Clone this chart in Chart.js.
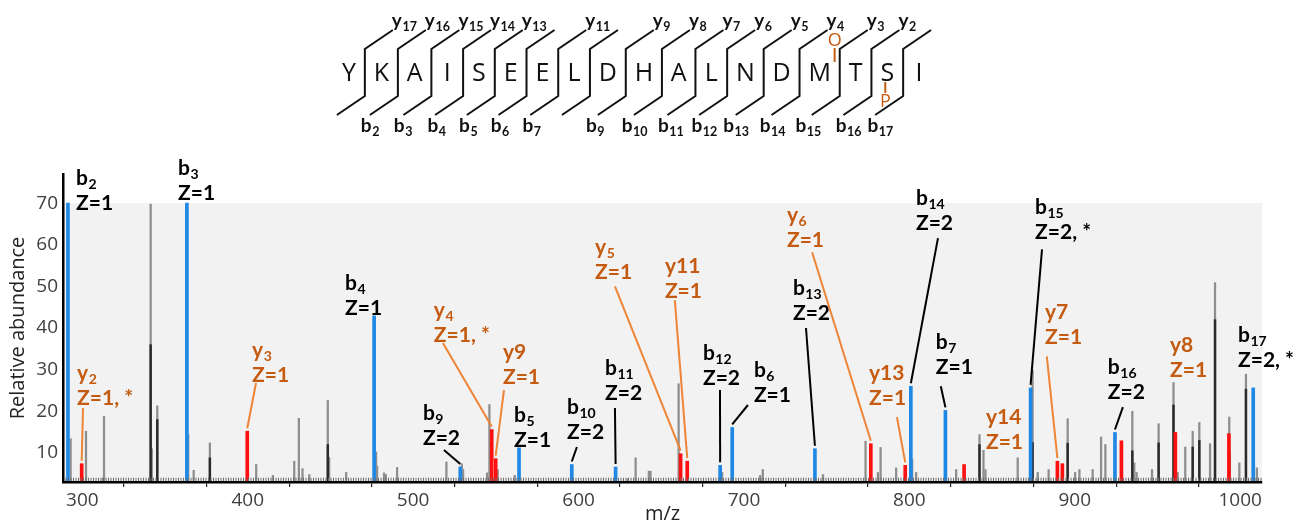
<!DOCTYPE html>
<html><head><meta charset="utf-8">
<script src="https://cdn.jsdelivr.net/npm/chart.js"></script>
<style>html,body{margin:0;padding:0;background:#fff}</style>
</head><body>
<canvas id="c" width="1304" height="523"></canvas>
<script>
// ---------------- data ----------------
const residues = ['Y','K','A','I','S','E','E','L','D','H','A','L','N','D','M','T','S','I'];
const seqBLabels = ['2','3','4','5','6','7','','9','10','11','12','13','14','15','16','17',''];
const seqYLabels = ['17','16','15','14','13','','11','','9','8','7','6','5','4','3','2',''];

const xTickValues = [300,350,400,450,500,550,600,650,700,750,800,850,900,950,1000];
const yTickValues = [10,20,30,40,50,60,70];

const grayMz = [292.9,302.2,312.5,313.1,341.3,342.0,345.3,364.0,367.3,377.1,405.1,415.2,428.1,430.9,433.1,437.2,448.4,449.2,459.5,477.6,478.2,482.4,483.5,490.3,520.1,529.4,530.2,544.7,546.1,551.1,561.4,629.8,634.5,642.5,643.5,660.5,686.8,709.8,711.4,747.8,773.5,781.0,782.6,792.0,801.7,804.1,828.3,842.4,844.8,846.0,865.5,874.5,877.6,884.2,895.7,900.2,902.8,910.8,915.9,918.5,934.8,936.0,937.4,946.7,950.7,959.7,962.2,966.8,971.3,975.3,981.8,984.8,993.4,999.5,1003.5,1010.1];
const grayVal = [13.4,15.2,4,18.8,69.8,11,21.3,14.4,5.8,12.4,7.2,4.6,8,18.3,6.2,4.8,22.6,8.9,5.3,10.2,6.8,5.2,4.8,6.5,7.8,7.4,6,5.2,21.6,6,4.6,3.8,8.8,5.6,5.6,26.6,5.3,4.6,6,4.8,12.8,5.3,11.3,6.4,8.4,5.3,6,14.4,10.6,6,8.8,29.8,5.3,6,18.2,5.3,6,6,13.8,12,20,7.6,5.3,6,17,26.9,5.3,11.4,15.2,17.3,12.2,50.9,18.6,7.6,28.9,6.4];

const darkMz  = [341.3,345.3,377.1,448.4,842.4,874.5,895.7,934.8,950.7,959.7,971.3,975.3,984.8,993.4,1003.5];
const darkVal = [36,18,8.8,12,12,12.5,12.3,10.5,12.4,21.5,11.4,13,42,10,25.3];

const bNames = ['b2','b3','b4','b9','b5','b10','b11','b12','b6','b13','b14','b7','b15','b16','b17'];
const bMz    = [291.3,363.2,476.4,528.5,564.0,595.9,622.4,685.6,692.9,742.9,800.9,821.8,873.3,924.3,1007.9];
const bVal   = [70,70,42.9,6.6,11.2,7.2,6.6,7,16.1,11,26,20.2,25.6,14.9,25.6];

const yNames = ['y2','y3','y4','y9','y5','y11','y6','y13','','y7','','','y8',''];
const yMz    = [299.6,399.7,547.5,549.9,661.7,665.7,776.7,797.5,833.1,889.5,892.5,928.2,960.8,993.2];
const yVal   = [7.4,15.2,15.6,8.6,9.8,8,12.2,7,7.2,8,7.4,12.9,14.9,14.6];

const annIon    = ['b2','b3','b4','y2','y3','b9','y4','y9','b5','b10','b11','y5','y11','b12','b6','b13','y6','y13','b14','b7','y14','b15','y7','b16','y8','b17'];
const annTitle  = ['b_2','b_3','b_4','y_2','y_3','b_9','y_4','y9','b_5','b_10','b_11','y_5','y11','b_12','b_6','b_13','y_6','y13','b_14','b_7','y14','b_15','y7','b_16','y8','b_17'];
const annCharge = ['Z=1','Z=1','Z=1','Z=1, *','Z=1','Z=2','Z=1, *','Z=1','Z=1','Z=2','Z=2','Z=1','Z=1','Z=2','Z=1','Z=2','Z=1','Z=1','Z=2','Z=1','Z=1','Z=2, *','Z=1','Z=2','Z=1','Z=2, *'];

// label placement (data units): [labelMz, labelVal, leaderStartMz, leaderStartVal]
const annLayout = [
  [296.2,75.9,null,null],[357.9,78.4,null,null],[458.8,50.8,null,null],
  [296.8,29.2,300.4,20.8],[402.6,34.7,405.0,26.8],[505.9,19.6,518.6,10.7],
  [512.5,44.3,518.0,36.4],[554.3,34.2,554.9,25.1],[561.0,19.1,null,null],
  [593.0,21.0,599.0,11.4],[616.0,30.4,622.0,20.8],[610.0,59.4,622.0,50.0],
  [652.2,54.8,658.2,46.7],[675.2,34.0,685.5,25.1],[706.0,29.9,702.4,21.5],
  [729.6,49.6,737.5,40.0],[726.0,67.1,741.2,58.2],[775.6,29.2,792.5,18.6],
  [804.0,71.2,817.3,61.6],[816.0,36.6,819.0,26.0],[846.3,18.6,null,null],
  [876.0,69.0,880.2,58.9],[882.0,43.8,883.1,33.2],[920.0,30.6,929.1,21.0],
  [957.6,35.9,null,null],[998.7,38.3,null,null]
];

// ---------------- styles ----------------
const BLUE = '#1f88e5', RED = '#ff1010', ORANGE_TXT = '#c55a11', ORANGE_LINE = '#ee8436';
const toXY = (xs, ys) => xs.map((x, i) => ({x, y: ys[i]}));

function drawSubText(ctx, txt, x, y, color, big, sub) {
  const parts = txt.split('_');
  ctx.fillStyle = color;
  ctx.textAlign = 'left';
  ctx.textBaseline = 'middle';
  ctx.font = 'bold ' + big + 'px Lato';
  ctx.fillText(parts[0], x, y);
  const w = ctx.measureText(parts[0]).width;
  if (parts[1]) {
    ctx.font = 'bold ' + sub + 'px Lato';
    ctx.fillText(parts[1], x + w + 0.5, y + big * 0.3);
  }
}

const backgroundPlugin = {
  id: 'bg',
  beforeDraw(chart) {
    const {ctx, chartArea, scales: {y}} = chart;
    ctx.save();
    ctx.fillStyle = '#f2f2f2';
    const top = y.getPixelForValue(70);
    ctx.fillRect(chartArea.left, top, chartArea.right - chartArea.left, chartArea.bottom - top);
    ctx.restore();
  },
  afterDatasetsDraw(chart) {
    const {ctx, chartArea} = chart;
    ctx.save();
    ctx.strokeStyle = '#6a6a6a';
    ctx.lineWidth = 3.5;
    ctx.setLineDash([1, 1.5]);
    ctx.beginPath();
    ctx.moveTo(chartArea.left, chartArea.bottom - 2.5);
    ctx.lineTo(chartArea.right, chartArea.bottom - 2.5);
    ctx.stroke();
    ctx.restore();
  }
};

const annotationPlugin = {
  id: 'ann',
  afterDraw(chart) {
    const {ctx, scales: {x, y}} = chart;
    const peakOf = name => {
      let i = bNames.indexOf(name);
      if (i >= 0) return [bMz[i], bVal[i]];
      i = yNames.indexOf(name);
      if (i >= 0) return [yMz[i], yVal[i]];
      return null;
    };
    ctx.save();
    annIon.forEach((ion, i) => {
      const isB = ion[0] === 'b';
      const [lm, lv, sm, sv] = annLayout[i];
      const px = x.getPixelForValue(lm), py = y.getPixelForValue(lv);
      const col = isB ? '#000' : ORANGE_TXT;
      drawSubText(ctx, annTitle[i], px, py, col, 21, 14);
      ctx.font = 'bold 21px Lato';
      ctx.fillStyle = col;
      ctx.fillText(annCharge[i], px, py + 25);
      if (sm !== null) {
        const pk = peakOf(ion);
        if (pk) {
          ctx.strokeStyle = isB ? '#000' : ORANGE_LINE;
          ctx.lineWidth = 2;
          ctx.beginPath();
          ctx.moveTo(x.getPixelForValue(sm), y.getPixelForValue(sv));
          ctx.lineTo(x.getPixelForValue(pk[0]), y.getPixelForValue(pk[1]) - 3);
          ctx.stroke();
        }
      }
    });
    ctx.restore();
  }
};

const sequencePlugin = {
  id: 'seq',
  afterDraw(chart) {
    const ctx = chart.ctx;
    ctx.save();
    ctx.font = '25px "Open Sans"';
    const widths = residues.map(r => Math.max(ctx.measureText(r).width, 14));
    const left = 342, right = 926;
    const sumW = widths.reduce((a, b) => a + b, 0);
    const gap = (right - left - sumW) / (residues.length - 1);
    const centers = [], seps = [];
    let cx = left;
    residues.forEach((r, i) => {
      centers.push(cx + widths[i] / 2);
      cx += widths[i];
      if (i < residues.length - 1) { seps.push(cx + gap / 2); cx += gap; }
    });
    ctx.fillStyle = '#111';
    ctx.textAlign = 'center';
    ctx.textBaseline = 'middle';
    residues.forEach((r, i) => ctx.fillText(r, centers[i], 74));
    ctx.strokeStyle = '#111';
    ctx.lineWidth = 2;
    seps.forEach((sx, i) => {
      ctx.beginPath();
      ctx.moveTo(sx - 28, 115);
      ctx.lineTo(sx, 96);
      ctx.lineTo(sx, 49);
      ctx.lineTo(sx + 28, 30);
      ctx.stroke();
      if (seqYLabels[i]) drawSubText(ctx, 'y_' + seqYLabels[i], sx + 27, 21, '#111', 19, 12.5);
      if (seqBLabels[i]) drawSubText(ctx, 'b_' + seqBLabels[i], sx - 4, 126, '#111', 19, 12.5);
    });
    // modifications
    const mi = residues.lastIndexOf('M');
    const mx = centers[mi] + 15;
    ctx.strokeStyle = ORANGE_TXT; ctx.fillStyle = ORANGE_TXT; ctx.lineWidth = 2;
    ctx.beginPath(); ctx.moveTo(mx, 48); ctx.lineTo(mx, 62); ctx.stroke();
    ctx.font = '18px "Open Sans"'; ctx.textAlign = 'center'; ctx.textBaseline = 'middle';
    ctx.fillText('O', mx, 41);
    const si = residues.lastIndexOf('S');
    const sx2 = centers[si] - 2;
    ctx.beginPath(); ctx.moveTo(sx2, 82); ctx.lineTo(sx2, 93); ctx.stroke();
    ctx.fillText('P', sx2, 102);
    ctx.restore();
  }
};

new Chart(document.getElementById('c'), {
  type: 'bar',
  data: {
    datasets: [
      {data: toXY(grayMz, grayVal), backgroundColor: '#8e8e8e', barThickness: 1.6, order: 4},
      {data: toXY(darkMz, darkVal), backgroundColor: '#2a2a2a', barThickness: 1.8, order: 3},
      {data: toXY(yMz, yVal), backgroundColor: RED, barThickness: 3, order: 2},
      {data: toXY(bMz, bVal), backgroundColor: BLUE, barThickness: 3, order: 1}
    ]
  },
  options: {
    responsive: false,
    devicePixelRatio: 1,
    animation: false,
    datasets: {bar: {grouped: false}},
    layout: {padding: {top: 174, right: 42, left: 0, bottom: 0}},
    plugins: {legend: {display: false}, tooltip: {enabled: false}},
    scales: {
      x: {
        type: 'linear', min: 288.3, max: 1013.2, offset: false,
        afterBuildTicks: s => { s.ticks = xTickValues.map(v => ({value: v})); },
        afterFit: s => { s.height = 41; },
        ticks: {
          autoSkip: false, maxRotation: 0, padding: 2, color: '#404040',
          font: {family: '"Open Sans"', size: 19},
          callback: v => (v % 100 === 0 ? String(v) : '')
        },
        grid: {display: true, drawOnChartArea: false, drawTicks: true, tickLength: 5, color: '#222', lineWidth: 1.2},
        border: {display: true, color: '#000', width: 2.5, z: 1},
        title: {display: true, text: 'm/z', color: '#222', font: {family: '"Open Sans"', size: 20, lineHeight: 1}, padding: {top: 0, bottom: -1}}
      },
      y: {
        type: 'linear', min: 3, max: 77,
        afterBuildTicks: s => { s.ticks = yTickValues.map(v => ({value: v})); },
        afterFit: s => { s.width = 63; },
        ticks: {padding: 5, color: '#404040', font: {family: '"Open Sans"', size: 19}},
        grid: {display: true, drawOnChartArea: false, drawTicks: false},
        border: {display: true, color: '#000', width: 2.5, z: 1},
        title: {display: true, text: 'Relative abundance', color: '#222', font: {family: '"Open Sans"', size: 20, lineHeight: 1}, padding: {top: 8, bottom: 0}}
      }
    }
  },
  plugins: [backgroundPlugin, annotationPlugin, sequencePlugin]
});
</script>
</body></html>
